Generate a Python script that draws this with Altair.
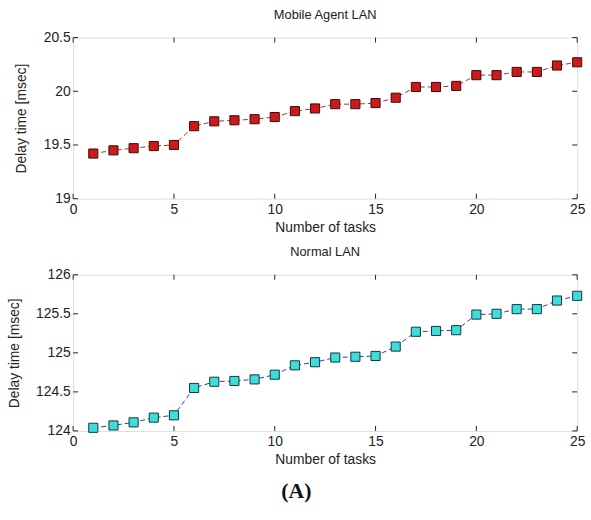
import altair as alt
import pandas as pd

tasks = list(range(1, 26))
mobile_delay = [19.42, 19.45, 19.47, 19.49, 19.50, 19.675, 19.72, 19.73, 19.74, 19.76,
                19.815, 19.84, 19.88, 19.88, 19.89, 19.94, 20.04, 20.04, 20.05, 20.15,
                20.15, 20.18, 20.18, 20.24, 20.27]
normal_delay = [124.04, 124.07, 124.11, 124.17, 124.20, 124.55, 124.63, 124.64, 124.66, 124.72,
                124.84, 124.88, 124.94, 124.95, 124.96, 125.08, 125.27, 125.28, 125.29, 125.49,
                125.50, 125.56, 125.56, 125.67, 125.73]
x_ticks = [0, 5, 10, 15, 20, 25]
mobile_ticks = [19, 19.5, 20, 20.5]
normal_ticks = [124, 124.5, 125, 125.5, 126]

W = 510
FONT = "Liberation Sans"


def panel(values, yticks, title, fill, edge, linecolor, H, title_x):
    df = pd.DataFrame({"task": tasks, "delay": values})
    xs = alt.Scale(domain=[0, 25], nice=False, zero=False)
    ys = alt.Scale(domain=[yticks[0], yticks[-1]], nice=False, zero=False)
    xaxis = alt.Axis(values=x_ticks, ticks=False, tickSize=0, domain=False, grid=False,
                     labelPadding=4, title="Number of tasks", titlePadding=4,
                     labelFont=FONT, labelFontSize=14, titleFont=FONT, titleFontSize=14,
                     titleFontWeight="normal", labelColor="#222", titleColor="#222",
                     labelFlush=False, labelOverlap=False)
    yaxis = alt.Axis(values=yticks, ticks=False, tickSize=0, domain=False, grid=False,
                     format="~g", labelPadding=3, title="Delay time [msec]",
                     titleX=title_x, titleY=H / 2, titleAngle=-90, titleAlign="center",
                     titleBaseline="middle",
                     labelFont=FONT, labelFontSize=14, titleFont=FONT, titleFontSize=14,
                     titleFontWeight="normal", labelColor="#222", titleColor="#222",
                     labelFlush=False, labelOverlap=False)
    base = alt.Chart(df)
    line = base.mark_line(color=linecolor, strokeDash=[5, 3], strokeWidth=1).encode(
        x=alt.X("task:Q", scale=xs, axis=xaxis),
        y=alt.Y("delay:Q", scale=ys, axis=yaxis),
    )
    pts = base.mark_point(shape="square", filled=True, size=85, fill=fill, stroke=edge,
                          strokeWidth=1, opacity=1).encode(
        x=alt.X("task:Q", scale=xs, axis=xaxis),
        y=alt.Y("delay:Q", scale=ys, axis=yaxis),
    )
    xt = pd.DataFrame({"t": x_ticks})
    yt = pd.DataFrame({"v": yticks})
    tk = dict(color="#222", strokeWidth=1)
    xb = alt.Chart(xt).mark_rule(**tk).encode(x=alt.X("t:Q", scale=xs, axis=xaxis), y=alt.value(H), y2=alt.value(H - 5))
    xtp = alt.Chart(xt).mark_rule(**tk).encode(x=alt.X("t:Q", scale=xs, axis=xaxis), y=alt.value(0), y2=alt.value(5))
    yl = alt.Chart(yt).mark_rule(**tk).encode(y=alt.Y("v:Q", scale=ys, axis=yaxis), x=alt.value(0), x2=alt.value(5))
    yr = alt.Chart(yt).mark_rule(**tk).encode(y=alt.Y("v:Q", scale=ys, axis=yaxis), x=alt.value(W), x2=alt.value(W - 5))
    return alt.layer(line, xb, xtp, yl, yr, pts).properties(
        width=W, height=H,
        title=alt.TitleParams(title, font=FONT, fontSize=13, fontWeight="normal",
                              color="#222", offset=9, anchor="middle"),
    )


top = panel(mobile_delay, mobile_ticks, "Mobile Agent LAN", "#cc1a1a", "#3a0a0a", "#a03535", 163, -52)
bottom = panel(normal_delay, normal_ticks, "Normal LAN", "#3fdcdc", "#0f3a3a", "#3a3a8a", 158, -59)

chart = alt.vconcat(top, bottom, spacing=10).properties(
    title=alt.TitleParams("(A)", orient="bottom", font="Liberation Serif", fontSize=22,
                          fontWeight="bold", color="#111", anchor="middle", offset=14),
    padding={"left": 7, "top": 5, "right": 5, "bottom": 5},
).configure_view(stroke="#222", strokeWidth=1).configure(background="white")

chart.save("out.html", embed_options={"renderer": "svg", "actions": False})
